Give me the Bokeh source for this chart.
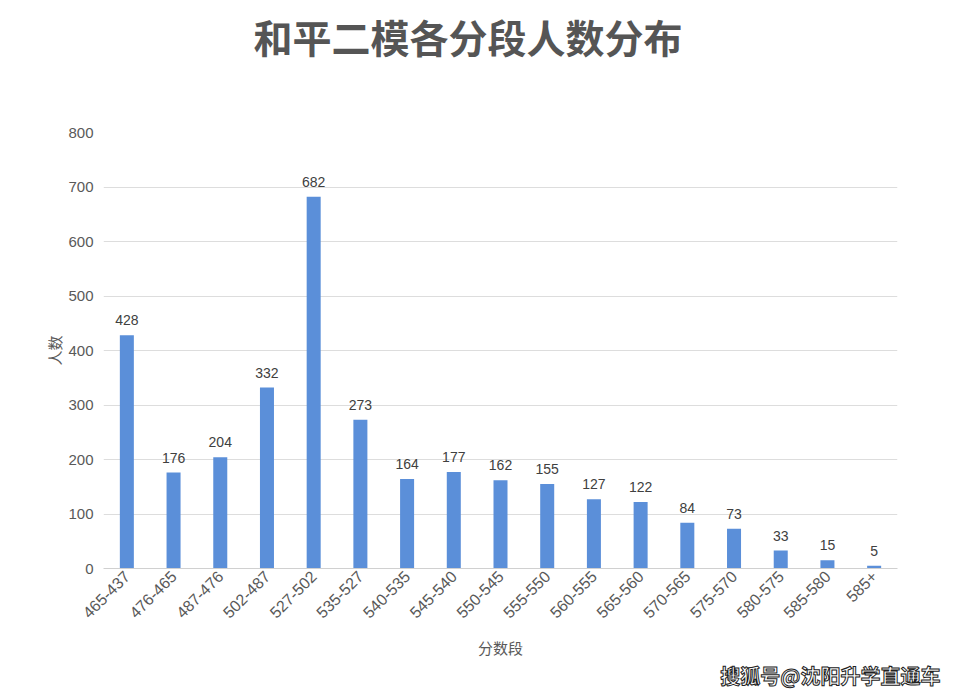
import math
from bokeh.plotting import figure
from bokeh.models import ColumnDataSource, Range1d, FactorRange, Title
from bokeh.core.properties import value
from bokeh.embed import file_html
from bokeh.resources import INLINE

categories = ["465-437", "476-465", "487-476", "502-487", "527-502", "535-527",
              "540-535", "545-540", "550-545", "555-550", "560-555", "565-560",
              "570-565", "575-570", "580-575", "585-580", "585+"]
counts = [428, 176, 204, 332, 682, 273, 164, 177, 162, 155, 127, 122, 84, 73, 33, 15, 5]
title_text = "和平二模各分段人数分布"
y_label = "人数"
x_label = "分数段"
watermark = "搜狐号@沈阳升学直通车"

FONT = "Noto Sans CJK SC"
NUM = "Liberation Sans"

src = ColumnDataSource(dict(cat=categories, val=counts, lbl=[str(v) for v in counts]))

p = figure(width=960, height=699, x_range=FactorRange(*categories, range_padding=0),
           y_range=Range1d(0, 800), output_backend="svg", toolbar_location=None,
           min_border_left=103, min_border_right=63, min_border_top=132, min_border_bottom=131)
p.outline_line_color = None
p.background_fill_color = "white"
p.border_fill_color = "white"

# spacer between the frame and the main title (panels stack outward from the frame)
spacer = Title(text=" ", text_font_size="1px", standoff=66, text_color="white")
p.add_layout(spacer, "above")

p.title.text = title_text
p.title.align = "left"
p.title.offset = 150
p.title.vertical_align = "bottom"
p.title.standoff = 0
p.title.text_font = FONT
p.title.text_font_size = "39px"
p.title.text_font_style = "bold"
p.title.text_color = "#555555"

p.vbar(x="cat", top="val", width=0.3, source=src, fill_color="#5B8FD9", line_color=None)
p.text(x="cat", y="val", text="lbl", source=src, text_align="center", text_baseline="bottom",
       y_offset=-10, text_font_size="14px", text_color="#404040", text_font=value(NUM))

p.xgrid.grid_line_color = None
p.ygrid.grid_line_color = "#DDDDDD"
p.ygrid.grid_line_width = 1

p.yaxis.ticker = list(range(0, 801, 100))
p.yaxis.axis_line_color = None
p.yaxis.major_tick_line_color = None
p.yaxis.minor_tick_line_color = None
p.yaxis.major_tick_out = 0
p.yaxis.major_tick_in = 0
p.yaxis.major_label_text_font_size = "15px"
p.yaxis.major_label_text_color = "#595959"
p.yaxis.major_label_text_font = NUM
p.yaxis.major_label_standoff = 10
p.yaxis.axis_label = y_label
p.yaxis.axis_label_text_font = FONT
p.yaxis.axis_label_text_font_size = "15px"
p.yaxis.axis_label_text_font_style = "normal"
p.yaxis.axis_label_text_color = "#595959"
p.yaxis.axis_label_standoff = 0

p.xaxis.axis_line_color = "#D0D0D0"
p.xaxis.major_tick_line_color = None
p.xaxis.minor_tick_line_color = None
p.xaxis.major_tick_out = 0
p.xaxis.major_tick_in = 0
p.xaxis.major_label_orientation = math.pi / 4
p.xaxis.major_label_text_font_size = "16px"
p.xaxis.major_label_text_color = "#595959"
p.xaxis.major_label_text_font = NUM
p.xaxis.major_label_standoff = 5
p.xaxis.axis_label = x_label
p.xaxis.axis_label_text_font = FONT
p.xaxis.axis_label_text_font_size = "15px"
p.xaxis.axis_label_text_font_style = "normal"
p.xaxis.axis_label_text_color = "#595959"
p.xaxis.axis_label_standoff = 10

wm = Title(text=watermark, align="right", offset=-43, standoff=0, vertical_align="top",
           text_font=FONT, text_font_size="20px", text_font_style="bold",
           text_color="white", text_outline_color="#222222")
p.add_layout(wm, "below")

open("out.html", "w").write(file_html(p, INLINE))
